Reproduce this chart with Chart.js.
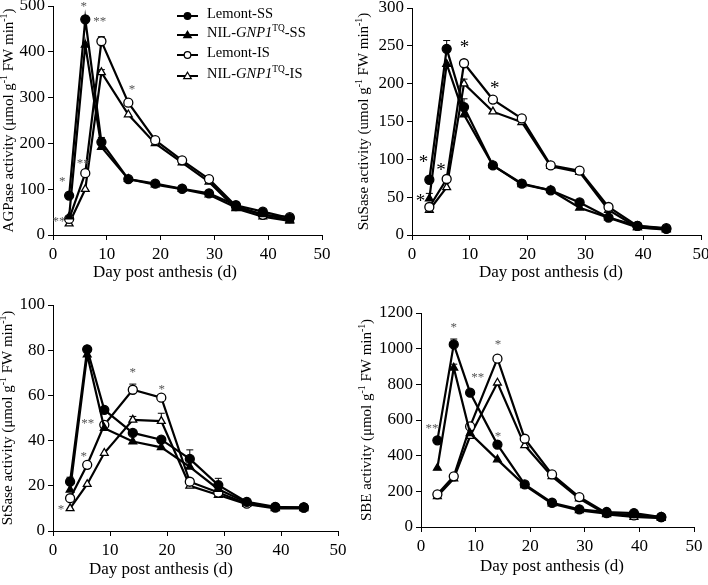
<!DOCTYPE html>
<html>
<head>
<meta charset="utf-8">
<script src="https://cdn.jsdelivr.net/npm/chart.js@4.4.1/dist/chart.umd.min.js"></script>
<style>
  body { margin: 0; background: #fff; }
  #wrap { position: relative; width: 708px; height: 585px; }
  canvas { position: absolute; }
</style>
</head>
<body>
<div id="wrap">
  <canvas id="c1" width="354" height="290" style="left:0;top:0;width:354px;height:290px"></canvas>
  <canvas id="c2" width="354" height="290" style="left:354px;top:0;width:354px;height:290px"></canvas>
  <canvas id="c3" width="354" height="295" style="left:0;top:290px;width:354px;height:295px"></canvas>
  <canvas id="c4" width="354" height="295" style="left:354px;top:290px;width:354px;height:295px"></canvas>
</div>
<script>
const FONT = '"Liberation Serif", "Times New Roman", serif';

// days after anthesis
const days = [3, 6, 9, 14, 19, 24, 29, 34, 39, 44];
const seriesNames = ['Lemont-SS', 'NIL-GNP1TQ-SS', 'Lemont-IS', 'NIL-GNP1TQ-IS'];

// AGPase
const agpLemontSS = [86, 471, 203, 122, 112, 101, 91, 65, 51, 37];
const agpNilSS    = [40, 415, 192, 122, 110, 100, 88, 60, 45, 33];
const agpLemontIS = [35, 135, 423, 289, 207, 163, 122, 63, 44, 39];
const agpNilIS    = [25, 100, 355, 263, 200, 158, 116, 58, 40, 31];
const agpErrLemontSS = [0, 0, 10, 0, 0, 0, 0, 0, 0, 0];
const agpErrNilSS    = [0, 0, 0, 0, 0, 0, 0, 0, 0, 0];
const agpErrLemontIS = [0, 0, 10, 0, 0, 0, 0, 0, 0, 0];
const agpErrNilIS    = [8, 0, 6, 0, 0, 0, 0, 0, 0, 0];
const agpStars = [[5.7, 498, '*'], [8.7, 467, '**'], [14.7, 318, '*'], [1.7, 116, '*'], [5.6, 155, '**'], [1.1, 29, '**']];

// SuSase
const susLemontSS = [73, 246, 169, 92, 68, 59, 43, 23, 12, 8];
const susNilSS    = [48, 226, 159, 92, 67, 59, 36, 23, 10, 8];
const susLemontIS = [37, 74, 227, 179, 154, 92, 85, 37, 12, 9];
const susNilIS    = [33, 63, 200, 163, 149, 91, 83, 33, 10, 7];
const susErrLemontSS = [0, 11, 11, 0, 0, 0, 0, 0, 0, 0];
const susErrNilSS    = [7, 0, 0, 0, 0, 0, 0, 0, 0, 0];
const susErrLemontIS = [0, 0, 0, 0, 0, 0, 0, 0, 0, 0];
const susErrNilIS    = [0, 0, 6, 0, 0, 0, 0, 0, 0, 0];
const susStars = [[9.1, 247, '*'], [14.3, 193, '*'], [2.0, 95, '*'], [5.0, 84, '*'], [1.45, 43, '*']];

// StSase
const stsLemontSS = [21.8, 80.4, 53.6, 43.4, 40.4, 31.9, 20.3, 12.9, 10.7, 10.4];
const stsNilSS    = [18.2, 78, 45.5, 39.6, 37, 28.4, 18.5, 12.6, 10.4, 10.4];
const stsLemontIS = [14.5, 29.3, 47, 62.5, 59, 21.8, 17, 12.1, 10.4, 10.4];
const stsNilIS    = [10, 20.7, 34.5, 49.2, 48.6, 20, 15.9, 11.9, 10, 10];
const stsErrLemontSS = [2, 0, 0, 0, 0, 4, 3, 0, 0, 0];
const stsErrNilSS    = [0, 0, 0, 0, 0, 0, 0, 0, 0, 0];
const stsErrLemontIS = [0, 0, 0, 2.5, 0, 0, 0, 0, 0, 0];
const stsErrNilIS    = [0, 0, 0, 1.5, 3.5, 0, 0, 0, 0, 0];
const stsStars = [[14, 70, '*'], [19.1, 62.7, '*'], [6.1, 47.4, '**'], [5.4, 32.9, '*'], [1.4, 9.6, '*']];

// SBE
const sbeLemontSS = [486, 1024, 753, 462, 239, 136, 99, 84, 78, 55];
const sbeNilSS    = [331, 893, 525, 378, 234, 131, 93, 75, 65, 56];
const sbeLemontIS = [183, 284, 564, 944, 495, 295, 168, 78, 65, 56];
const sbeNilIS    = [172, 271, 510, 809, 458, 284, 159, 71, 56, 50];
const sbeErrLemontSS = [0, 30, 0, 0, 0, 0, 0, 0, 0, 0];
const sbeErrNilSS    = [0, 20, 0, 0, 0, 0, 0, 0, 0, 0];
const sbeErrLemontIS = [0, 0, 0, 0, 0, 0, 0, 0, 0, 0];
const sbeErrNilIS    = [0, 0, 0, 0, 0, 0, 0, 0, 0, 0];
const sbeStars = [[6, 1121, '*'], [14.1, 1024, '*'], [10.4, 837, '**'], [2.0, 551, '**'], [14.1, 505, '*']];

function pts(vals) {
  return days.map((d, i) => ({ x: d, y: vals[i] }));
}

function styled(vals, err, shape, filled, label) {
  return {
    label: label,
    data: pts(vals),
    err: err,
    borderColor: '#000',
    borderWidth: 2.2,
    pointStyle: shape,
    pointRadius: 4.5,
    pointBorderWidth: 1.3,
    pointBorderColor: '#000',
    pointBackgroundColor: filled ? '#000' : '#fff',
    tension: 0
  };
}

// draw mixed text (superscript / italic pieces)
function drawRich(ctx, parts, size, x, y, align) {
  let total = 0;
  parts.forEach(p => {
    ctx.font = (p.it ? 'italic ' : '') + (p.sup ? size * 0.65 : size) + 'px ' + FONT;
    p.w = ctx.measureText(p.t).width;
    total += p.w;
  });
  let cx = align === 'center' ? x - total / 2 : x;
  ctx.textBaseline = 'middle';
  ctx.textAlign = 'left';
  parts.forEach(p => {
    ctx.font = (p.it ? 'italic ' : '') + (p.sup ? size * 0.65 : size) + 'px ' + FONT;
    ctx.fillText(p.t, cx, p.sup ? y - size * 0.32 : y);
    cx += p.w;
  });
}

const decor = {
  id: 'decor',
  beforeDatasetsDraw(chart) {
    const ctx = chart.ctx;
    const ys = chart.scales.y;
    ctx.save();
    ctx.strokeStyle = '#000';
    ctx.lineWidth = 1;
    chart.data.datasets.forEach((ds, i) => {
      const meta = chart.getDatasetMeta(i);
      ds.err.forEach((e, j) => {
        if (!e) return;
        const p = meta.data[j];
        const top = ys.getPixelForValue(ds.data[j].y + e);
        ctx.beginPath();
        ctx.moveTo(p.x, p.y);
        ctx.lineTo(p.x, top);
        ctx.moveTo(p.x - 3.5, top);
        ctx.lineTo(p.x + 3.5, top);
        ctx.stroke();
      });
    });
    ctx.restore();
  },
  afterDraw(chart) {
    const o = chart.options.plugins.decor;
    const ctx = chart.ctx;
    const a = chart.chartArea;
    const xs = chart.scales.x, ys = chart.scales.y;
    ctx.save();
    ctx.fillStyle = '#000';
    // x title
    ctx.font = '17px ' + FONT;
    ctx.textAlign = 'center';
    ctx.textBaseline = 'middle';
    ctx.fillText('Day post anthesis (d)', o.xTitleX, o.xTitleY);
    // y title
    ctx.save();
    ctx.translate(o.yTitleX, (a.top + a.bottom) / 2);
    ctx.rotate(-Math.PI / 2);
    drawRich(ctx, [
      { t: o.yName + ' activity (' + o.unit + ' g' },
      { t: '-1', sup: true },
      { t: ' FW min' },
      { t: '-1', sup: true },
      { t: ')' }
    ], 15, 0, 0, 'center');
    ctx.restore();
    // significance marks
    ctx.fillStyle = o.starColor;
    ctx.font = o.starSize + 'px ' + FONT;
    ctx.textAlign = 'center';
    ctx.textBaseline = 'middle';
    o.stars.forEach(s => {
      ctx.fillText(s[2], xs.getPixelForValue(s[0]), ys.getPixelForValue(s[1]));
    });
    // legend
    if (o.legend) {
      const rows = [16, 35, 55, 76];
      chart.data.datasets.forEach((ds, i) => {
        const ly = rows[i];
        ctx.strokeStyle = '#000';
        ctx.lineWidth = 2;
        ctx.beginPath();
        ctx.moveTo(177, ly);
        ctx.lineTo(198, ly);
        ctx.stroke();
        ctx.fillStyle = ds.pointBackgroundColor;
        ctx.lineWidth = 1.2;
        ctx.beginPath();
        if (ds.pointStyle === 'circle') {
          ctx.arc(187.5, ly, 3.3, 0, Math.PI * 2);
        } else {
          ctx.moveTo(187.5, ly - 3.8);
          ctx.lineTo(191.3, ly + 2.6);
          ctx.lineTo(183.7, ly + 2.6);
          ctx.closePath();
        }
        ctx.fill();
        ctx.stroke();
        ctx.fillStyle = '#000';
        let parts;
        if (i === 0) parts = [{ t: 'Lemont-SS' }];
        else if (i === 2) parts = [{ t: 'Lemont-IS' }];
        else parts = [{ t: 'NIL-' }, { t: 'GNP1', it: true }, { t: 'TQ', sup: true }, { t: i === 1 ? '-SS' : '-IS' }];
        drawRich(ctx, parts, 14.5, 207, ly - 2, 'left');
      });
    }
    ctx.restore();
  }
};

function makeChart(id, sets, geo, yMax, yStep, extra) {
  const cv = document.getElementById(id);
  const W = cv.width, H = cv.height;
  return new Chart(cv, {
    type: 'line',
    data: { datasets: sets },
    options: {
      responsive: false,
      animation: false,
      layout: { padding: { left: 0, top: geo.top, right: W - geo.right, bottom: 0 } },
      plugins: {
        legend: { display: false },
        tooltip: { enabled: false },
        decor: extra
      },
      scales: {
        x: {
          type: 'linear', min: 0, max: 50,
          ticks: { stepSize: 10, color: '#000', font: { family: FONT, size: 17 }, padding: 4, maxRotation: 0 },
          grid: { drawOnChartArea: false, drawTicks: true, tickLength: 5, color: '#000' },
          border: { color: '#000', width: 1 },
          afterFit(s) { s.height = H - geo.bottom; s.paddingLeft = 0; s.paddingRight = 0; }
        },
        y: {
          min: 0, max: yMax,
          ticks: {
            stepSize: yStep, color: '#000', font: { family: FONT, size: 17 }, padding: 3,
            callback: v => String(v)
          },
          grid: { drawOnChartArea: false, drawTicks: true, tickLength: 5, color: '#000' },
          border: { color: '#000', width: 1 },
          afterFit(s) { s.width = geo.left; s.paddingTop = 0; s.paddingBottom = 0; }
        }
      }
    },
    plugins: [decor]
  });
}

makeChart('c1', [
  styled(agpLemontSS, agpErrLemontSS, 'circle', true, seriesNames[0]),
  styled(agpNilSS, agpErrNilSS, 'triangle', true, seriesNames[1]),
  styled(agpLemontIS, agpErrLemontIS, 'circle', false, seriesNames[2]),
  styled(agpNilIS, agpErrNilIS, 'triangle', false, seriesNames[3])
], { left: 53, right: 322, top: 6, bottom: 235 }, 500, 100, {
  yName: 'AGPase', unit: 'μmol', yTitleX: 9, xTitleX: 165, xTitleY: 273,
  stars: agpStars, starSize: 13, starColor: '#555', legend: true
});

makeChart('c2', [
  styled(susLemontSS, susErrLemontSS, 'circle', true, seriesNames[0]),
  styled(susNilSS, susErrNilSS, 'triangle', true, seriesNames[1]),
  styled(susLemontIS, susErrLemontIS, 'circle', false, seriesNames[2]),
  styled(susNilIS, susErrNilIS, 'triangle', false, seriesNames[3])
], { left: 58, right: 347, top: 8, bottom: 235 }, 300, 50, {
  yName: 'SuSase', unit: 'umol', yTitleX: 10, xTitleX: 197, xTitleY: 273,
  stars: susStars, starSize: 19, starColor: '#000', legend: false
});

makeChart('c3', [
  styled(stsLemontSS, stsErrLemontSS, 'circle', true, seriesNames[0]),
  styled(stsNilSS, stsErrNilSS, 'triangle', true, seriesNames[1]),
  styled(stsLemontIS, stsErrLemontIS, 'circle', false, seriesNames[2]),
  styled(stsNilIS, stsErrNilIS, 'triangle', false, seriesNames[3])
], { left: 53, right: 338, top: 15, bottom: 241 }, 100, 20, {
  yName: 'StSase', unit: 'μmol', yTitleX: 8, xTitleX: 161, xTitleY: 280,
  stars: stsStars, starSize: 13, starColor: '#555', legend: false
});

makeChart('c4', [
  styled(sbeLemontSS, sbeErrLemontSS, 'circle', true, seriesNames[0]),
  styled(sbeNilSS, sbeErrNilSS, 'triangle', true, seriesNames[1]),
  styled(sbeLemontIS, sbeErrLemontIS, 'circle', false, seriesNames[2]),
  styled(sbeNilIS, sbeErrNilIS, 'triangle', false, seriesNames[3])
], { left: 67, right: 340, top: 23, bottom: 237 }, 1200, 200, {
  yName: 'SBE', unit: 'μmol', yTitleX: 13, xTitleX: 198, xTitleY: 277,
  stars: sbeStars, starSize: 13, starColor: '#555', legend: false
});
</script>
</body>
</html>
